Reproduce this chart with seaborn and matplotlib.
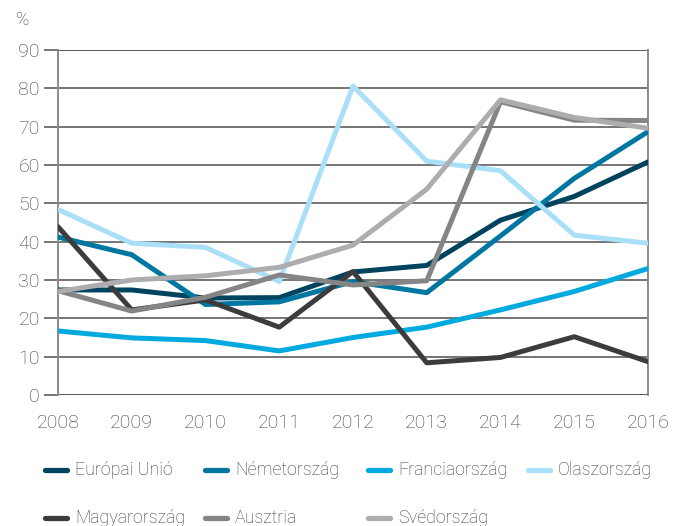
import matplotlib
matplotlib.use("Agg")
import matplotlib.pyplot as plt
import seaborn as sns
import pandas as pd

# Adatok (%), leolvasva az abrarol
years = [2008, 2009, 2010, 2011, 2012, 2013, 2014, 2015, 2016]
europai_unio = [27.4, 27.4, 25.3, 25.4, 32.1, 33.8, 45.6, 51.8, 60.8]
nemetorszag = [41.2, 36.6, 23.6, 24.3, 29.6, 26.7, 41.5, 56.5, 68.7]
franciaorszag = [16.7, 14.9, 14.2, 11.5, 15.0, 17.7, 22.2, 27.0, 33.0]
olaszorszag = [48.4, 39.6, 38.5, 29.6, 80.6, 61.0, 58.5, 41.7, 39.6]
magyarorszag = [43.9, 22.2, 24.8, 17.7, 32.2, 8.4, 9.8, 15.2, 8.7]
ausztria = [27.2, 21.9, 25.5, 31.3, 28.7, 29.8, 76.5, 71.7, 71.6]
svedorszag = [27.0, 30.0, 31.1, 33.3, 39.1, 53.7, 77.0, 72.4, 69.6]

names = ["Európai Unió", "Németország", "Franciaország", "Olaszország",
         "Magyarország", "Ausztria", "Svédország"]
series = [europai_unio, nemetorszag, franciaorszag, olaszorszag,
          magyarorszag, ausztria, svedorszag]
colors = ["#00435f", "#0077a0", "#00aadf", "#a9e0f8",
          "#3c3c3c", "#858585", "#adadaf"]

df = pd.DataFrame({
    "ev": years * len(names),
    "ertek": [v for s in series for v in s],
    "orszag": [n for n in names for _ in years],
})

sns.set_style("white")
plt.rcParams["font.family"] = ["Roboto", "DejaVu Sans"]
plt.rcParams["font.weight"] = "light"
txt = "#3c3c3c"

fig = plt.figure(figsize=(6.76, 5.26), dpi=100)
ax = fig.add_axes([58 / 676, 1 - 395 / 526, 590 / 676, 345 / 526])

sns.lineplot(data=df, x="ev", y="ertek", hue="orszag", hue_order=names,
             palette=colors, linewidth=3.6, ax=ax, legend=False, zorder=3)

ax.set_xlim(2008, 2016)
ax.set_ylim(0, 90)
ax.set_yticks(range(0, 91, 10))
ax.set_xticks(years)
ax.set_xlabel("")
ax.set_ylabel("")
for y in range(0, 91, 10):
    ax.axhline(y, color="#3a3a3a" if y in (0, 90) else "#5e5e5e",
               lw=1.2, zorder=1)
for side in ["top", "bottom"]:
    ax.spines[side].set_visible(False)
for side in ["left", "right"]:
    ax.spines[side].set_color("#8a8a8a")
    ax.spines[side].set_linewidth(1.4)
ax.tick_params(axis="y", length=10, width=1.2, color="#5e5e5e",
               labelsize=14, labelcolor=txt, pad=3)
ax.tick_params(axis="x", length=0, labelsize=14, labelcolor=txt, pad=14)
ax.yaxis.set_ticks_position("left")

fig.text(16 / 676, 1 - 20 / 526, "%", fontsize=13, color=txt, va="center")

# jelmagyarazat: 4 oszlop, fix oszlopszelesseg
col_x = [45, 205, 368, 528]
row_y = [470, 518]
for i, (name, c) in enumerate(zip(names, colors)):
    x0 = col_x[i % 4]
    y0 = 1 - row_y[i // 4] / 526
    fig.add_artist(plt.Line2D([x0 / 676, (x0 + 22) / 676], [y0, y0],
                              color=c, lw=3.8, transform=fig.transFigure))
    fig.text((x0 + 30) / 676, y0, name, fontsize=12.8, color=txt,
             va="center", ha="left")

fig.savefig("out.png", dpi=100)
